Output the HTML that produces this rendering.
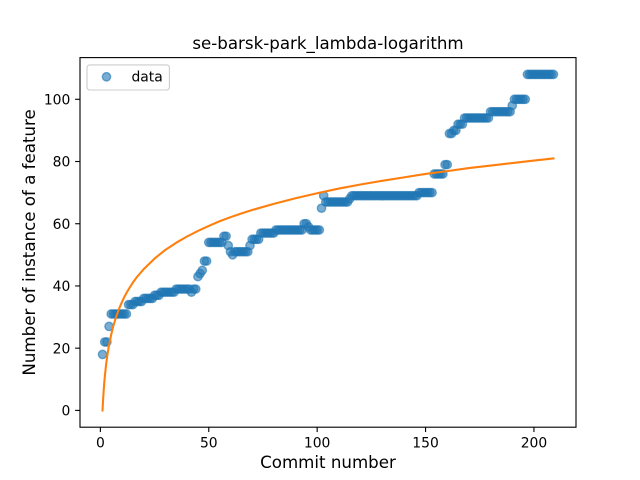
<!DOCTYPE html>
<html lang="en">
<head>
<meta charset="utf-8">
<title>se-barsk-park_lambda-logarithm</title>
<style>
html,body{margin:0;padding:0;background:#fff;width:640px;height:480px;overflow:hidden}
svg{display:block}
text{font-family:"DejaVu Sans","Liberation Sans",sans-serif;fill:#000}
</style>
</head>
<body>
<svg id="chart" xmlns="http://www.w3.org/2000/svg" width="640" height="480" viewBox="0 0 640 480">
  <rect x="0" y="0" width="640" height="480" fill="#fff"/>
  <g id="points"></g>
  <polyline id="fit" fill="none" stroke="#ff7f0e" stroke-width="2.08" stroke-linejoin="round" stroke-linecap="square"></polyline>
  <g id="ticks"></g>
  <rect x="80" y="57.6" width="496" height="369.6" fill="none" stroke="#000" stroke-width="1.11"/>
  <text x="328" y="49" font-size="16.67" text-anchor="middle">se-barsk-park_lambda-logarithm</text>
  <text x="328" y="468" font-size="16.67" text-anchor="middle">Commit number</text>
  <text transform="translate(35 242.4) rotate(-90)" font-size="16.67" text-anchor="middle">Number of instance of a feature</text>
  <g>
    <rect x="87" y="64.9" width="82.4" height="25.1" rx="2.8" ry="2.8" fill="#fff" fill-opacity="0.8" stroke="#ccc" stroke-width="1.11"/>
    <circle cx="106.5" cy="76.8" r="4.17" fill="#1f77b4" fill-opacity="0.6" stroke="#1f77b4" stroke-opacity="0.6" stroke-width="1.39"/>
    <text x="131.5" y="81.6" font-size="13.89">data</text>
  </g>
</svg>
<script>
const instanceCounts = [
  18,
  22,22,
  27,
  31,31,31,31,31,31,31,31,
  34,34,34,
  35,35,35,35,
  36,36,36,36,36,
  37,37,37,
  38,38,38,38,38,38,38,
  39,39,39,39,39,39,39,
  38,
  39,39,
  43,44,45,
  48,48,
  54,54,54,54,54,54,54,
  56,56,
  53,51,50,
  51,51,51,51,51,51,51,
  53,
  55,55,55,55,
  57,57,57,57,57,57,57,
  58,58,58,58,58,58,58,58,58,58,58,58,58,
  60,60,
  59,
  58,58,58,58,58,
  65,69,
  67,67,67,67,67,67,67,67,67,67,67,
  68,
  69,69,69,69,69,69,69,69,69,69,69,69,69,69,69,69,69,69,69,69,69,69,69,69,69,69,69,69,69,69,69,
  70,70,70,70,70,70,70,
  76,76,76,76,76,
  79,79,
  89,89,
  90,90,
  92,92,92,
  94,94,94,94,94,94,94,94,94,94,94,94,
  96,96,96,96,96,96,96,96,96,96,
  98,
  100,100,100,100,100,100,
  108,108,108,108,108,108,108,108,108,108,108,108,108
];
const fitCommits = [1,1.25,1.5,1.75,2,2.5,3,3.5,4,5,6,7,8,9,10,11,12,13,15,17,20,25,30,35,40,45,50,55,60,65,70,80,90,100,110,120,130,140,150,160,170,180,190,200,209];
const fitValues = [0,3.4,6.1,8.5,10.5,13.9,16.7,19,21,24.4,27.2,29.5,31.5,33.3,34.9,36.4,37.7,38.9,41.1,43,45.4,48.8,51.6,53.9,55.9,57.7,59.3,60.8,62.1,63.3,64.4,66.4,68.2,69.8,71.3,72.6,73.8,74.9,76,76.9,77.9,78.7,79.5,80.3,81];
const xTickLabels = [0,50,100,150,200];
const yTickLabels = [0,20,40,60,80,100];

const SVG_NS = 'http://www.w3.org/2000/svg';
const plotLeft = 80, plotRight = 576, plotTop = 57.6, plotBottom = 427.2;
const xMin = -9.4, xMax = 219.4, yMin = -5.4, yMax = 113.4;

function xScale(v) { return plotLeft + (v - xMin) / (xMax - xMin) * (plotRight - plotLeft); }
function yScale(v) { return plotBottom - (v - yMin) / (yMax - yMin) * (plotBottom - plotTop); }

const pointsGroup = document.getElementById('points');
instanceCounts.forEach(function (count, i) {
  const c = document.createElementNS(SVG_NS, 'circle');
  
  
  c.setAttribute('cx', xScale(i + 1));
  c.setAttribute('cy', yScale(count));
  c.setAttribute('r', 4.17);
  c.setAttribute('fill', '#1f77b4');
  c.setAttribute('fill-opacity', 0.6);
  c.setAttribute('stroke', '#1f77b4');
  c.setAttribute('stroke-opacity', 0.6);
  c.setAttribute('stroke-width', 1.39);
  pointsGroup.appendChild(c);
});

document.getElementById('fit').setAttribute('points', fitCommits.map(function (commit, i) {
  return xScale(commit) + ',' + yScale(fitValues[i]);
}).join(' '));

const ticksGroup = document.getElementById('ticks');
xTickLabels.forEach(function (label) {
  const px = xScale(label);
  const mark = document.createElementNS(SVG_NS, 'line');
  
  
  mark.setAttribute('x1', px);
  mark.setAttribute('x2', px);
  mark.setAttribute('y1', plotBottom);
  mark.setAttribute('y2', plotBottom + 4.86);
  mark.setAttribute('stroke', '#000');
  mark.setAttribute('stroke-width', 1.11);
  ticksGroup.appendChild(mark);
  const t = document.createElementNS(SVG_NS, 'text');
  
  
  t.setAttribute('x', px);
  t.setAttribute('y', plotBottom + 20.3);
  t.setAttribute('font-size', 13.89);
  t.setAttribute('text-anchor', 'middle');
  t.textContent = label;
  ticksGroup.appendChild(t);
});
yTickLabels.forEach(function (label) {
  const py = yScale(label);
  const mark = document.createElementNS(SVG_NS, 'line');
  
  
  mark.setAttribute('x1', plotLeft - 4.86);
  mark.setAttribute('x2', plotLeft);
  mark.setAttribute('y1', py);
  mark.setAttribute('y2', py);
  mark.setAttribute('stroke', '#000');
  mark.setAttribute('stroke-width', 1.11);
  ticksGroup.appendChild(mark);
  const t = document.createElementNS(SVG_NS, 'text');
  
  
  t.setAttribute('x', plotLeft - 9.7);
  t.setAttribute('y', py + 5.1);
  t.setAttribute('font-size', 13.89);
  t.setAttribute('text-anchor', 'end');
  t.textContent = label;
  ticksGroup.appendChild(t);
});
</script>
</body>
</html>
